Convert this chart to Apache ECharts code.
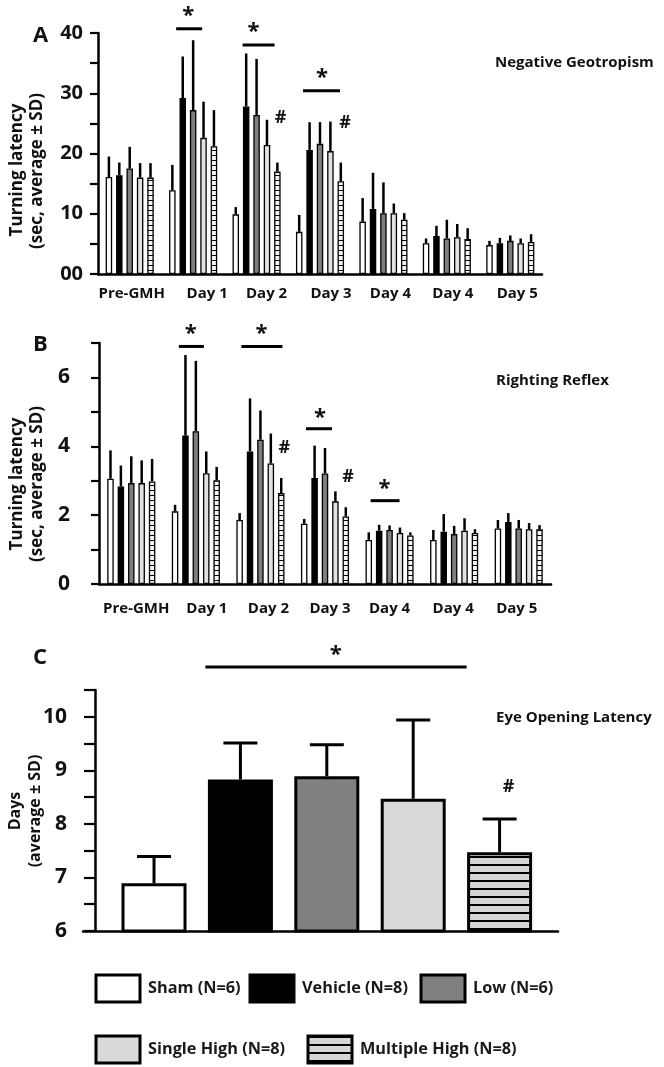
<!DOCTYPE html>
<html><head><meta charset="utf-8">
<script src="https://cdn.jsdelivr.net/npm/echarts@6/dist/echarts.min.js"></script>
<style>html,body{margin:0;padding:0;background:#fff}#c{width:664px;height:1067px}</style>
</head><body><div id="c"></div>
<script>
// ---------- DATA ----------
const groups = ['Sham (N=6)', 'Vehicle (N=8)', 'Low (N=6)', 'Single High (N=8)', 'Multiple High (N=8)'];
const categories = ['Pre-GMH', 'Day 1', 'Day 2', 'Day 3', 'Day 4', 'Day 4', 'Day 5'];

// Panel A: Negative Geotropism (sec), mean and SD
const geoShamMean     = [16.1, 13.9, 9.9, 7.0, 8.7, 5.1, 4.8];
const geoShamSD       = [3.4, 4.2, 1.2, 2.8, 3.9, 0.8, 0.7];
const geoVehicleMean  = [16.4, 29.2, 27.8, 20.6, 10.8, 6.3, 5.1];
const geoVehicleSD    = [2.1, 6.9, 8.8, 4.6, 6.0, 1.7, 0.9];
const geoLowMean      = [17.5, 27.2, 26.4, 21.6, 10.1, 5.9, 5.5];
const geoLowSD        = [3.6, 11.6, 9.3, 3.6, 5.1, 3.1, 0.9];
const geoSingleMean   = [16.0, 22.6, 21.4, 20.4, 10.1, 6.1, 5.1];
const geoSingleSD     = [2.4, 6.0, 4.2, 4.9, 1.6, 2.2, 0.8];
const geoMultipleMean = [16.0, 21.2, 17.0, 15.4, 9.0, 5.8, 5.3];
const geoMultipleSD   = [2.4, 6.0, 1.5, 3.1, 1.1, 1.8, 1.3];

// Panel B: Righting Reflex (sec), mean and SD
const rrShamMean     = [3.06, 2.11, 1.86, 1.75, 1.28, 1.28, 1.61];
const rrShamSD       = [0.82, 0.19, 0.20, 0.14, 0.22, 0.29, 0.25];
const rrVehicleMean  = [2.83, 4.31, 3.85, 3.08, 1.55, 1.52, 1.80];
const rrVehicleSD    = [0.61, 2.34, 1.54, 0.94, 0.17, 0.51, 0.26];
const rrLowMean      = [2.93, 4.44, 4.19, 3.21, 1.57, 1.45, 1.61];
const rrLowSD        = [0.78, 2.04, 0.85, 0.74, 0.13, 0.24, 0.25];
const rrSingleMean   = [2.93, 3.22, 3.50, 2.40, 1.48, 1.55, 1.59];
const rrSingleSD     = [0.66, 0.63, 0.87, 0.29, 0.16, 0.36, 0.18];
const rrMultipleMean = [2.98, 3.01, 2.64, 1.96, 1.41, 1.48, 1.59];
const rrMultipleSD   = [0.65, 0.39, 0.44, 0.27, 0.09, 0.11, 0.12];

// Panel C: Eye Opening Latency (days), one value per group
const eyeMean = [6.89, 8.83, 8.89, 8.47, 7.47];
const eyeSD   = [0.50, 0.68, 0.59, 1.47, 0.62];

// Tick settings
const yTicksA = {min: 0, max: 40, interval: 5};
const yTicksB = {min: 0, max: 7, interval: 1};
const yTicksC = {min: 6, max: 10.5, interval: 0.5};

// ---------- STYLE / LAYOUT ----------
const FONT = '"Open Sans", Lato, sans-serif';
// horizontal nudges (px) of category labels, as in the original figure
const labelShiftA = [2, 14, 10, 11, 7, 6, 7];
const labelShiftB = [5, 11, 8, 5, 0, -1, -2];

function stripe(w, period, line, bg) {
  const c = document.createElement('canvas'); c.width = w; c.height = period;
  const g = c.getContext('2d'); g.fillStyle = bg; g.fillRect(0, 0, w, period);
  g.fillStyle = '#000'; g.fillRect(0, 0, w, line); return c;
}
const stripeSmall = {image: stripe(8, 5, 1, '#f4f4f4'), repeat: 'repeat'};
const stripeBig = {image: stripe(8, 8, 2, '#d6d6d6'), repeat: 'repeat'};
const fillsAB = ['#ffffff', '#000000', '#7f7f7f', '#e2e2e2', stripeSmall];
const fillsC = ['#ffffff', '#000000', '#808080', '#d9d9d9', stripeBig];

const geoMeans = [geoShamMean, geoVehicleMean, geoLowMean, geoSingleMean, geoMultipleMean];
const geoSDs = [geoShamSD, geoVehicleSD, geoLowSD, geoSingleSD, geoMultipleSD];
const rrMeans = [rrShamMean, rrVehicleMean, rrLowMean, rrSingleMean, rrMultipleMean];
const rrSDs = [rrShamSD, rrVehicleSD, rrLowSD, rrSingleSD, rrMultipleSD];

const BAR_W = 6.5, BAR_GAP = 0.6; // px, fraction
const PITCH = BAR_W * (1 + BAR_GAP);

const chart = echarts.init(document.getElementById('c'), null, {renderer: 'canvas'});

const axisLine = {show: true, onZero: false, lineStyle: {color: '#000', width: 2.5}};
function yAxis(gi, ticks, labelFn, fontSize, margin, tickLen, offset) {
  return {
    type: 'value', gridIndex: gi, min: ticks.min, max: ticks.max, interval: ticks.interval,
    offset: offset || 0,
    axisLine: axisLine, splitLine: {show: false},
    axisTick: {show: true, length: tickLen, lineStyle: {color: '#000', width: 2.2}},
    axisLabel: {formatter: labelFn, fontSize: fontSize, fontWeight: 'bold', fontFamily: FONT, color: '#111', margin: margin}
  };
}
function catAxis(gi, margin, shifts) {
  return {
    type: 'category', gridIndex: gi,
    data: categories.map((c, i) => ({value: c, textStyle: {
      padding: shifts[i] >= 0 ? [0, 0, 0, 2 * shifts[i]] : [0, -2 * shifts[i], 0, 0]}})),
    axisLine: axisLine, axisTick: {show: false},
    axisLabel: {interval: 0, fontSize: 15, fontWeight: 'bold', fontFamily: FONT, color: '#111', margin: margin}
  };
}

function barSeries(gi, means) {
  return means.map((m, g) => ({
    type: 'bar', name: groups[g], xAxisIndex: gi, yAxisIndex: gi, data: m,
    barWidth: BAR_W, barGap: (BAR_GAP * 100) + '%', silent: true, animation: false,
    itemStyle: {color: fillsAB[g], borderColor: '#000', borderWidth: 1.3}
  }));
}
function errSeries(gi, means, sds) {
  const data = [];
  means.forEach((m, g) => m.forEach((v, i) => data.push([i, g, v, v + sds[g][i]])));
  return {
    type: 'custom', xAxisIndex: gi, yAxisIndex: gi, data: data, encode: {x: 0, y: 3},
    silent: true, animation: false, z: 5,
    renderItem: function (params, api) {
      const p0 = api.coord([api.value(0), api.value(2)]);
      const p1 = api.coord([api.value(0), api.value(3)]);
      const dx = (api.value(1) - 2) * PITCH;
      return {type: 'line', shape: {x1: p0[0] + dx, y1: p0[1], x2: p1[0] + dx, y2: p1[1]},
        style: {stroke: '#000', lineWidth: 2.5}};
    }
  };
}

const series = [].concat(
  barSeries(0, geoMeans), [errSeries(0, geoMeans, geoSDs)],
  barSeries(1, rrMeans), [errSeries(1, rrMeans, rrSDs)],
  [{
    type: 'bar', name: 'eye', xAxisIndex: 2, yAxisIndex: 2, clip: true, silent: true, animation: false,
    barWidth: 65,
    data: eyeMean.map((v, i) => ({value: [i, v], itemStyle: {color: fillsC[i]}})),
    itemStyle: {borderColor: '#000', borderWidth: 3}
  }, {
    type: 'custom', xAxisIndex: 2, yAxisIndex: 2, silent: true, animation: false, z: 5,
    data: eyeMean.map((v, i) => [i, v, v + eyeSD[i]]), encode: {x: 0, y: 2},
    renderItem: function (params, api) {
      const p0 = api.coord([api.value(0), api.value(1)]);
      const p1 = api.coord([api.value(0), api.value(2)]);
      const s = {stroke: '#000', lineWidth: 3};
      return {type: 'group', children: [
        {type: 'line', shape: {x1: p0[0], y1: p0[1], x2: p1[0], y2: p1[1]}, style: s},
        {type: 'line', shape: {x1: p1[0] - 17, y1: p1[1], x2: p1[0] + 17, y2: p1[1]}, style: s}
      ]};
    }
  }]
);

const legendTxt = {fontSize: 16.3, fontWeight: 'bold', fontFamily: FONT, color: '#1a1a1a', padding: [0, 0, 0, 3]};
const legendPos = [[94.5, 973.5], [248.5, 973.5], [419.5, 973.5], [94.5, 1034.5], [306.5, 1034.5]];
const legends = groups.map((name, i) => ({
  data: [{name: name, icon: 'rect', itemStyle: {color: fillsC[i], borderColor: '#000', borderWidth: 3}}],
  left: legendPos[i][0], top: legendPos[i][1], padding: 0, itemWidth: 44, itemHeight: 27,
  selectedMode: false, textStyle: legendTxt
}));

const option = {
  backgroundColor: '#fff',
  animation: false,
  grid: [
    {left: 98, top: 33, width: 444, height: 241},
    {left: 99, top: 343, width: 452, height: 241},
    {left: 83, top: 690, width: 475, height: 241}
  ],
  xAxis: [
    catAxis(0, 12, labelShiftA),
    catAxis(1, 17, labelShiftB),
    {type: 'value', gridIndex: 2, min: -0.822, max: 4.676, axisLine: axisLine,
      axisTick: {show: false}, axisLabel: {show: false}, splitLine: {show: false}}
  ],
  yAxis: [
    yAxis(0, yTicksA, v => v === 0 ? '00' : (v % 10 === 0 ? String(v) : ''), 20, 15, 8),
    yAxis(1, yTicksB, v => v % 2 === 0 ? String(v) : '', 21, 29, 8),
    yAxis(2, yTicksC, v => v % 1 === 0 ? String(v) : '', 21, 28, 11, -12)
  ],
  legend: legends,
  series: series
};
chart.setOption(option);

// ---------- ANNOTATIONS (positions in data space + small pixel offsets) ----------
const sigLines = [
  {g: 0, y: 40.7, a: [1, -17], b: [1, 9]},
  {g: 0, y: 38.0, a: [2, -14], b: [2, 18]},
  {g: 0, y: 30.4, a: [3, -17], b: [3, 20]},
  {g: 1, y: 6.90, a: [1, -17], b: [1, 8]},
  {g: 1, y: 6.90, a: [2, -19], b: [2, 22]},
  {g: 1, y: 4.51, a: [3, -19], b: [3, 7]},
  {g: 1, y: 2.42, a: [4, -19], b: [4, 10]},
  {g: 2, y: 10.93, a: [1, -35], b: [4, -33]}
];
const sigMarks = [
  {g: 0, y: 40.7, cat: 1, dx: -5, dy: -17, t: '*'},
  {g: 0, y: 38.0, cat: 2, dx: -3, dy: -17, t: '*'},
  {g: 0, y: 30.4, cat: 3, dx: 2, dy: -17, t: '*'},
  {g: 0, y: 25.9, cat: 2, dx: 24, dy: 0, t: '#'},
  {g: 0, y: 25.1, cat: 3, dx: 25, dy: 0, t: '#'},
  {g: 1, y: 6.90, cat: 1, dx: -5, dy: -17, t: '*'},
  {g: 1, y: 6.90, cat: 2, dx: 1, dy: -17, t: '*'},
  {g: 1, y: 4.51, cat: 3, dx: -5, dy: -15, t: '*'},
  {g: 1, y: 2.42, cat: 4, dx: -5, dy: -16, t: '*'},
  {g: 1, y: 3.96, cat: 2, dx: 24, dy: 0, t: '#'},
  {g: 1, y: 3.12, cat: 3, dx: 23, dy: 0, t: '#'},
  {g: 2, y: 10.93, cat: 2, dx: 9, dy: -16, t: '*'},
  {g: 2, y: 8.70, cat: 4, dx: 9, dy: 0, t: '#'}
];

const graphics = [];
function txt(x, y, text, size, opts) {
  return Object.assign({type: 'text', x: x, y: y, silent: true, z: 10,
    style: {text: text, fontSize: size, fontWeight: 'bold', fontFamily: FONT, fill: '#111',
      align: 'left', verticalAlign: 'middle'}}, opts || {});
}
function rtxt(x, y, text, size) {
  return {type: 'text', x: x, y: y, rotation: Math.PI / 2, silent: true, z: 10,
    style: {text: text, fontSize: size, fontWeight: 'bold', fontFamily: FONT, fill: '#111',
      align: 'center', verticalAlign: 'middle'}};
}
sigLines.forEach(s => {
  const p = chart.convertToPixel({gridIndex: s.g}, [s.a[0], s.y]);
  const q = chart.convertToPixel({gridIndex: s.g}, [s.b[0], s.y]);
  graphics.push({type: 'line', silent: true, z: 10,
    shape: {x1: p[0] + s.a[1], y1: p[1], x2: q[0] + s.b[1], y2: q[1]},
    style: {stroke: '#000', lineWidth: 3}});
});
sigMarks.forEach(m => {
  const p = chart.convertToPixel({gridIndex: m.g}, [m.cat, m.y]);
  const size = m.t === '*' ? 22 : 18;
  const yy = p[1] + m.dy + (m.t === '*' ? 4 : 0);
  const t = txt(p[0] + m.dx, yy, m.t, size);
  t.style.align = 'center';
  graphics.push(t);
});

graphics.push(txt(33, 36, 'A', 22));
graphics.push(txt(33, 345, 'B', 22));
graphics.push(txt(33, 658, 'C', 22));
graphics.push(txt(495, 63, 'Negative Geotropism', 15));
graphics.push(txt(496, 381, 'Righting Reflex', 15));
graphics.push(txt(496, 718, 'Eye Opening Latency', 15));
graphics.push(rtxt(17, 170, 'Turning latency', 17));
graphics.push(rtxt(37, 171, '(sec, average ± SD)', 17));
graphics.push(rtxt(17, 484, 'Turning latency', 17));
graphics.push(rtxt(37, 484, '(sec, average ± SD)', 17));
graphics.push(rtxt(15, 811, 'Days', 16));
graphics.push(rtxt(35, 811, '(average ± SD)', 16));

chart.setOption({graphic: graphics});
</script>
</body></html>
